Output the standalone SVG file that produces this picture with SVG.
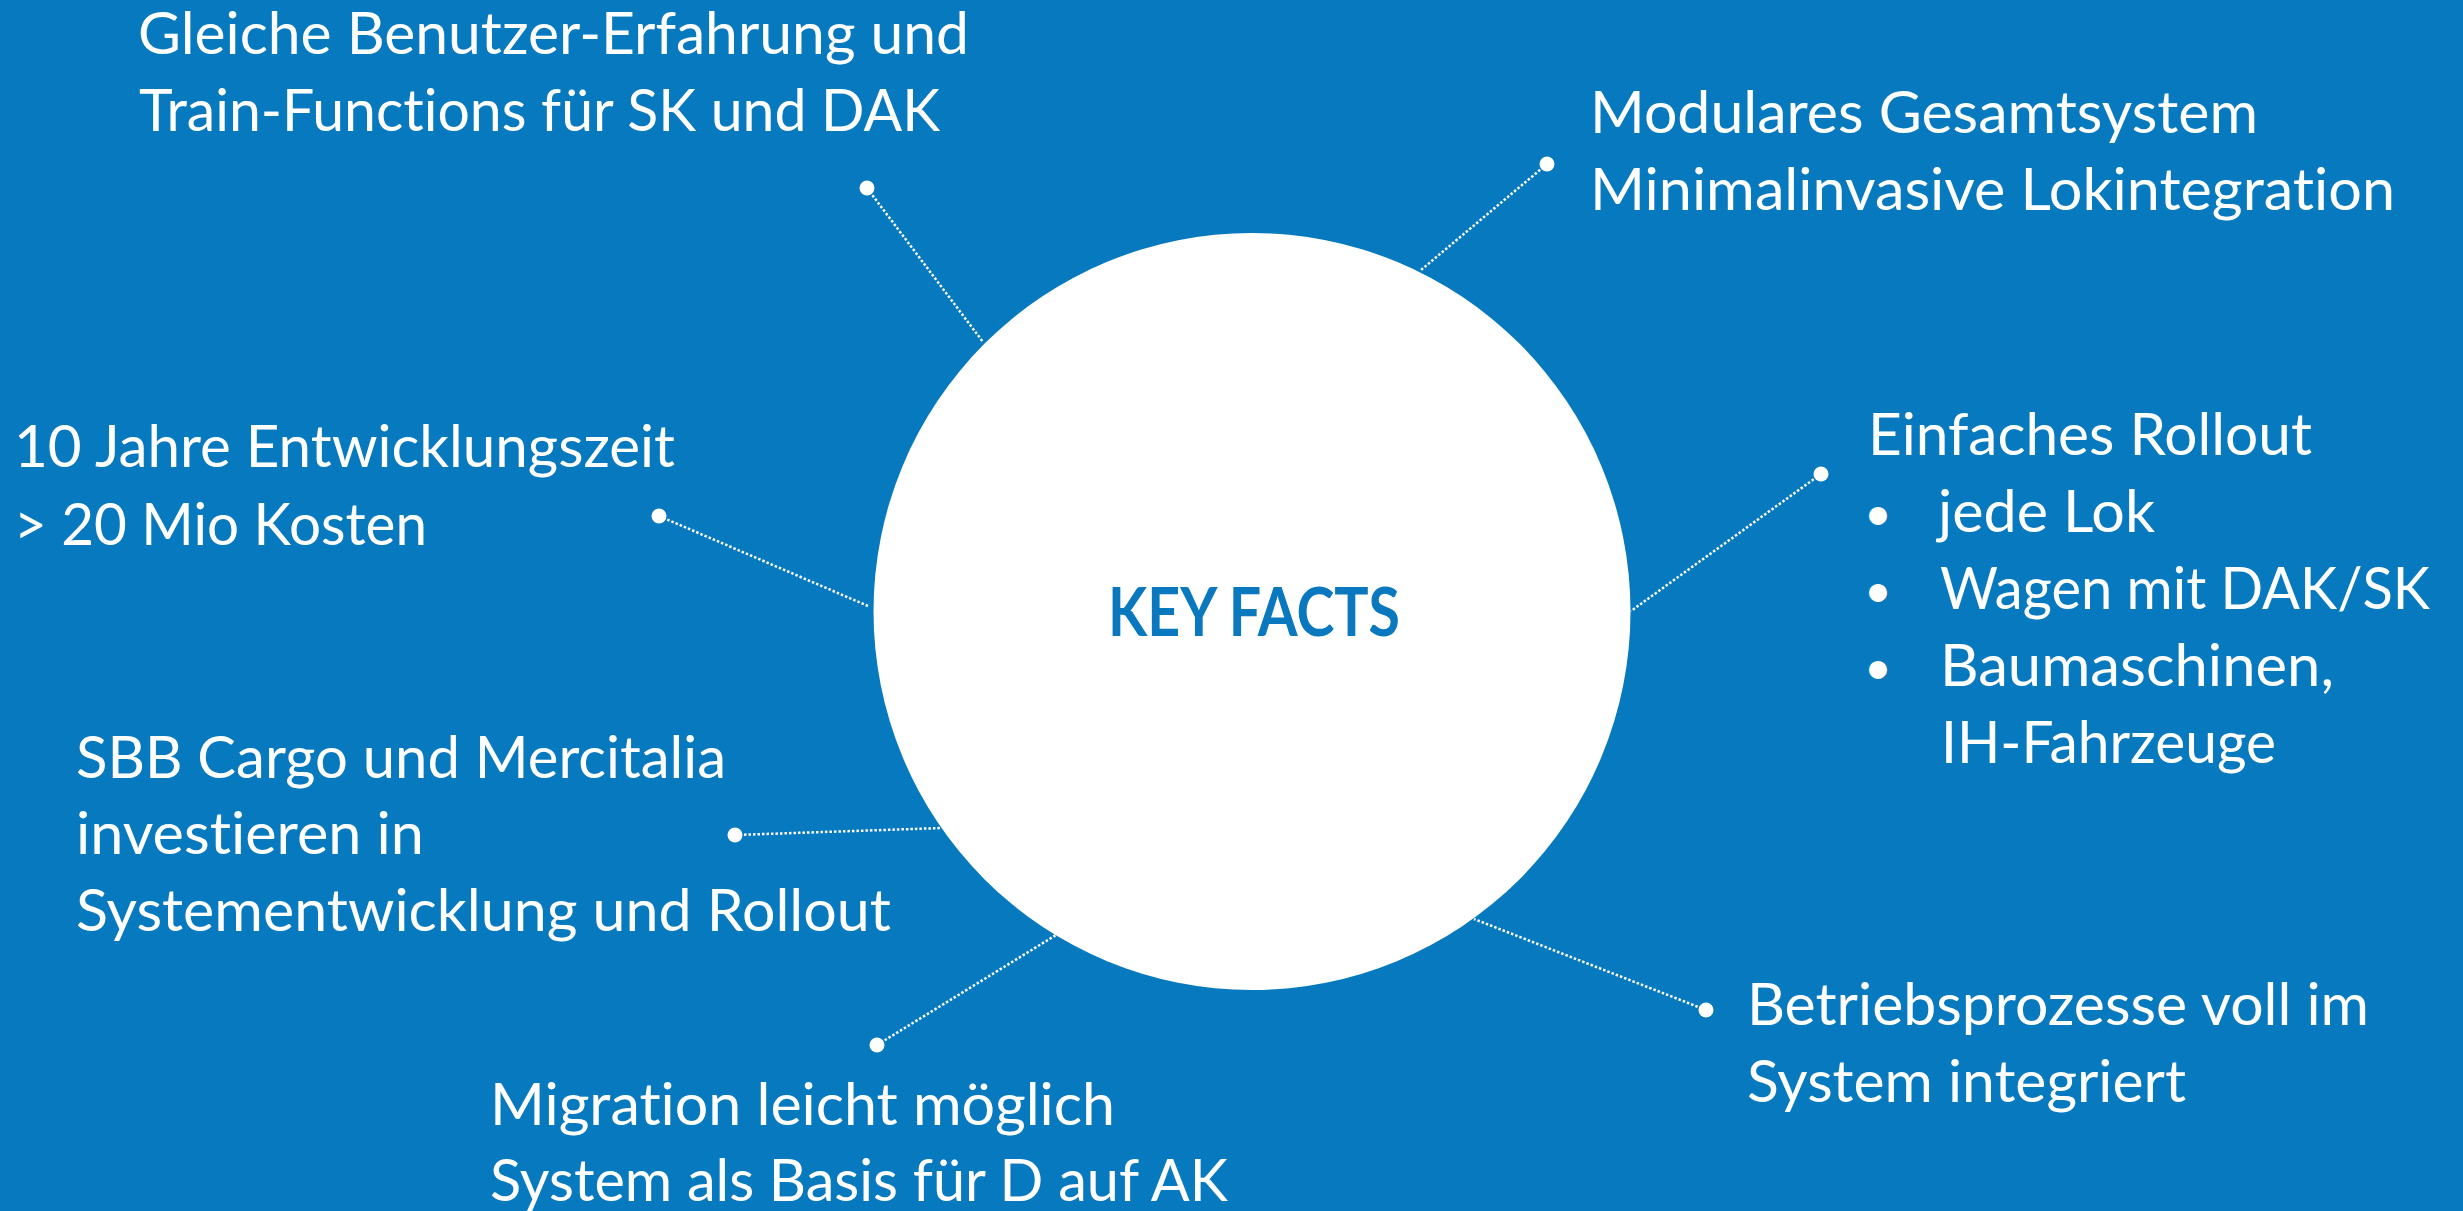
<svg xmlns="http://www.w3.org/2000/svg" width="2463" height="1211" viewBox="0 0 2463 1211">
  <style>
    .lbl { font-family: Lato, "Open Sans", "Liberation Sans", sans-serif; font-size: 58px; fill: #ffffff; font-variant-ligatures: none; font-feature-settings: "liga" 0, "clig" 0; }
    .bul { font-family: Lato, "Open Sans", "Liberation Sans", sans-serif; font-size: 48px; fill: #ffffff; }
    .hub { font-family: Lato, "Open Sans", "Liberation Sans", sans-serif; font-size: 66px; font-weight: bold; fill: #0A78BE; font-variant-ligatures: none; }
    .link { stroke: #ffffff; stroke-width: 2.5; stroke-dasharray: 2.5 2; fill: none; }
    .pin { fill: #ffffff; }
  </style>
  <rect width="2463" height="1211" fill="#0779BE"/>

  <!-- dotted leader lines from each fact to the hub -->
  <g id="connectors">
    <line class="link" x1="867" y1="188" x2="983" y2="342"/>
    <line class="link" x1="1547" y1="164" x2="1421" y2="270"/>
    <line class="link" x1="659" y1="516" x2="868" y2="606"/>
    <line class="link" x1="735" y1="835" x2="942" y2="828"/>
    <line class="link" x1="877" y1="1045" x2="1056" y2="935"/>
    <line class="link" x1="1706" y1="1010" x2="1474" y2="919"/>
    <line class="link" x1="1821" y1="474" x2="1631" y2="611"/>
    <circle class="pin" cx="867" cy="188" r="7.5"/>
    <circle class="pin" cx="1547" cy="164" r="7.5"/>
    <circle class="pin" cx="659" cy="516" r="7.5"/>
    <circle class="pin" cx="735" cy="835" r="7.5"/>
    <circle class="pin" cx="877" cy="1045" r="7.5"/>
    <circle class="pin" cx="1706" cy="1010" r="7.5"/>
    <circle class="pin" cx="1821" cy="474" r="7.5"/>
  </g>

  <!-- central hub -->
  <g id="hub">
    <circle cx="1252" cy="611.5" r="378.5" fill="#ffffff"/>
    <text class="hub" x="1108" y="636" textLength="292" lengthAdjust="spacingAndGlyphs">KEY FACTS</text>
  </g>

  <g id="fact-ux">
    <text class="lbl" x="138" y="54" textLength="831" lengthAdjust="spacingAndGlyphs">Gleiche Benutzer-Erfahrung und</text>
    <text class="lbl" x="139" y="131" textLength="801" lengthAdjust="spacingAndGlyphs">Train-Functions für SK und DAK</text>
  </g>

  <g id="fact-modular">
    <text class="lbl" x="1590" y="133" textLength="668" lengthAdjust="spacingAndGlyphs">Modulares Gesamtsystem</text>
    <text class="lbl" x="1590" y="210" textLength="805" lengthAdjust="spacingAndGlyphs">Minimalinvasive Lokintegration</text>
  </g>

  <g id="fact-cost">
    <text class="lbl" x="14" y="467" textLength="661" lengthAdjust="spacingAndGlyphs">10 Jahre Entwicklungszeit</text>
    <text class="lbl" x="14" y="545" textLength="413" lengthAdjust="spacingAndGlyphs">&gt; 20 Mio Kosten</text>
  </g>

  <g id="fact-rollout">
    <text class="lbl" x="1868" y="455" textLength="444" lengthAdjust="spacingAndGlyphs">Einfaches Rollout</text>
    <text class="bul" x="1878" y="530" text-anchor="middle">•</text>
    <text class="bul" x="1878" y="607" text-anchor="middle">•</text>
    <text class="bul" x="1878" y="684" text-anchor="middle">•</text>
    <text class="lbl" x="1938" y="532" textLength="217" lengthAdjust="spacingAndGlyphs">jede Lok</text>
    <text class="lbl" x="1940" y="609" textLength="490" lengthAdjust="spacingAndGlyphs">Wagen mit DAK/SK</text>
    <text class="lbl" x="1940" y="686" textLength="394" lengthAdjust="spacingAndGlyphs">Baumaschinen,</text>
    <text class="lbl" x="1941" y="763" textLength="335" lengthAdjust="spacingAndGlyphs">IH-Fahrzeuge</text>
  </g>

  <g id="fact-invest">
    <text class="lbl" x="76" y="778" textLength="650" lengthAdjust="spacingAndGlyphs">SBB Cargo und Mercitalia</text>
    <text class="lbl" x="76" y="854" textLength="348" lengthAdjust="spacingAndGlyphs">investieren in</text>
    <text class="lbl" x="76" y="931" textLength="815" lengthAdjust="spacingAndGlyphs">Systementwicklung und Rollout</text>
  </g>

  <g id="fact-migration">
    <text class="lbl" x="490" y="1125" textLength="625" lengthAdjust="spacingAndGlyphs">Migration leicht möglich</text>
    <text class="lbl" x="490" y="1201" textLength="738" lengthAdjust="spacingAndGlyphs">System als Basis für D auf AK</text>
  </g>

  <g id="fact-operations">
    <text class="lbl" x="1747" y="1025" textLength="622" lengthAdjust="spacingAndGlyphs">Betriebsprozesse voll im</text>
    <text class="lbl" x="1747" y="1102" textLength="439" lengthAdjust="spacingAndGlyphs">System integriert</text>
  </g>
</svg>
